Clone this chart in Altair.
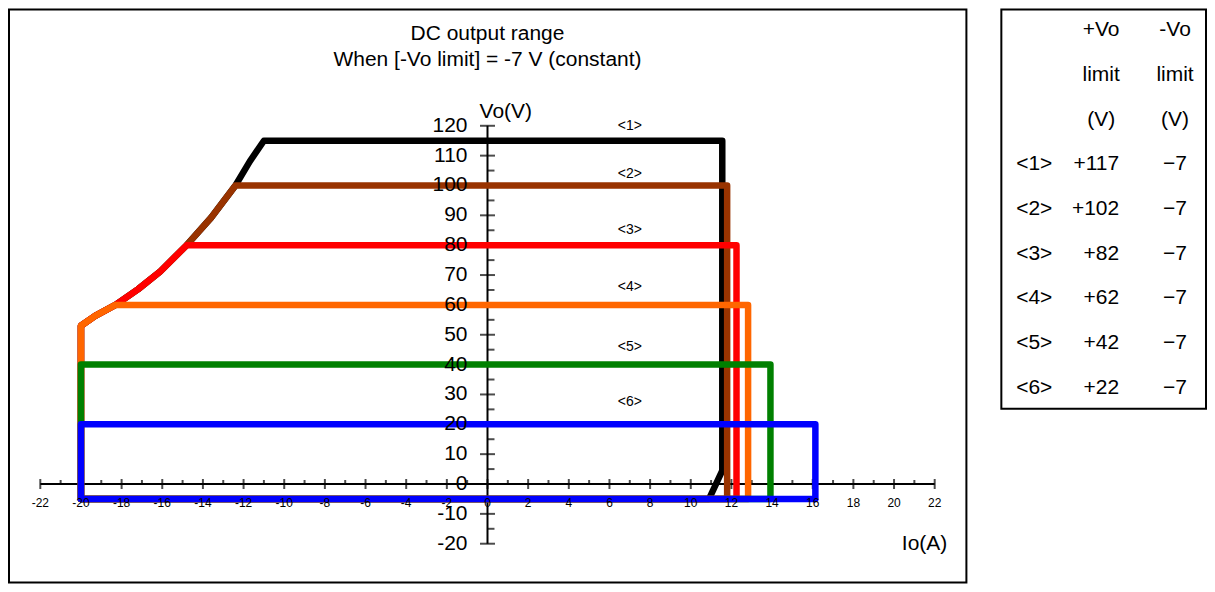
import altair as alt
import pandas as pd

# ---------------- data ----------------
series_names = ["<1>", "<2>", "<3>", "<4>", "<5>", "<6>"]
series_colors = ["#000000", "#993300", "#FF0000", "#FF6600", "#008000", "#0000FF"]

s1_x = [-20, -20, -19.3, -18.3, -17.2, -16.1, -14.8, -13.6, -12.4, -11.7, -11.0, 11.55, 11.55, 10.9, -20]
s1_y = [-5, 53, 56.3, 60, 65.2, 71.2, 80, 89.2, 100, 108, 115, 115, 4.5, -5, -5]
s2_x = [-20, -20, -19.3, -18.3, -17.2, -16.1, -14.8, -13.6, -12.4, 11.79, 11.79, -20]
s2_y = [-5, 53, 56.3, 60, 65.2, 71.2, 80, 89.2, 100, 100, -5, -5]
s3_x = [-20, -20, -19.3, -18.3, -17.2, -16.1, -14.8, 12.25, 12.25, -20]
s3_y = [-5, 53, 56.3, 60, 65.2, 71.2, 80, 80, -5, -5]
s4_x = [-20, -20, -19.3, -18.3, 12.82, 12.82, -20]
s4_y = [-5, 53, 56.3, 60, 60, -5, -5]
s5_x = [-20, -20, 13.92, 13.92, -20]
s5_y = [-5, 40, 40, -5, -5]
s6_x = [-20, -20, 16.13, 16.13, -20]
s6_y = [-5, 20, 20, -5, -5]
series_x = [s1_x, s2_x, s3_x, s4_x, s5_x, s6_x]
series_y = [s1_y, s2_y, s3_y, s4_y, s5_y, s6_y]

label_x = [7, 7, 7, 7, 7, 7]
label_y = [120, 104, 85, 66, 46, 27.5]

x_major = list(range(-22, 23, 2))
x_minor = list(range(-21, 22, 2))
y_major = list(range(-20, 121, 10))
y_minor = list(range(-15, 120, 10))

title_lines = ["DC output range", "When [-Vo limit] = -7 V (constant)"]
title_y = [150.7, 142.0]

y_title = "Vo(V)"
x_title = "Io(A)"

hdr_plus = ["+Vo", "limit", "(V)"]
hdr_minus = ["-Vo", "limit", "(V)"]
plus_limits = ["+117", "+102", "+82", "+62", "+42", "+22"]
minus_limits = ["\u22127", "\u22127", "\u22127", "\u22127", "\u22127", "\u22127"]

FONT = "Liberation Sans"

# ---------------- main plot ----------------
XS = alt.Scale(domain=[-23.54, 23.56], nice=False, zero=False)
YS = alt.Scale(domain=[-33.0, 158.96], nice=False, zero=False)


def X(f="x"):
    return alt.X(f"{f}:Q", scale=XS, axis=None)


def Y(f="y"):
    return alt.Y(f"{f}:Q", scale=YS, axis=None)


layers = []

# axes lines
xaxis_df = pd.DataFrame({"x": [x_major[0]], "x2": [x_major[-1]], "y": [0]})
yaxis_df = pd.DataFrame({"x": [0], "y": [y_major[0]], "y2": [y_major[-1]]})
layers.append(alt.Chart(xaxis_df).mark_rule(color="black", strokeWidth=2).encode(
    x=X(), x2="x2:Q", y=Y()))
layers.append(alt.Chart(yaxis_df).mark_rule(color="black", strokeWidth=2).encode(
    x=X(), y=Y(), y2="y2:Q"))

# ticks
xmaj_df = pd.DataFrame({"x": x_major, "y": 0})
xmin_df = pd.DataFrame({"x": x_minor, "y": 0})
ymaj_df = pd.DataFrame({"x": 0, "y": y_major})
ymin_df = pd.DataFrame({"x": 0, "y": y_minor})
layers.append(alt.Chart(xmaj_df).mark_tick(orient="vertical", size=10, thickness=2, color="black").encode(x=X(), y=Y()))
layers.append(alt.Chart(xmin_df).mark_tick(orient="vertical", size=4, thickness=2, yOffset=-2, color="black").encode(x=X(), y=Y()))
layers.append(alt.Chart(ymaj_df).mark_tick(orient="horizontal", size=15, thickness=2, color="black").encode(x=X(), y=Y()))
layers.append(alt.Chart(ymin_df).mark_tick(orient="horizontal", size=7, thickness=2, xOffset=3.5, color="black").encode(x=X(), y=Y()))

# series
for i in range(6):
    df = pd.DataFrame({"x": series_x[i], "y": series_y[i], "o": list(range(len(series_x[i])))})
    layers.append(
        alt.Chart(df).mark_line(color=series_colors[i], strokeWidth=6.5, strokeJoin="round", strokeCap="round").encode(
            x=X(), y=Y(), order="o:Q")
    )

# tick labels
xlab_df = pd.DataFrame({"x": x_major, "y": 0, "t": [str(v) for v in x_major]})
ylab_df = pd.DataFrame({"x": 0, "y": y_major, "t": [str(v) for v in y_major]})
layers.append(alt.Chart(xlab_df).mark_text(font=FONT, fontSize=12, dy=19, baseline="middle", color="black").encode(
    x=X(), y=Y(), text="t:N"))
layers.append(alt.Chart(ylab_df).mark_text(font=FONT, fontSize=21, dx=-20, align="right", baseline="middle", color="black").encode(
    x=X(), y=Y(), text="t:N"))

# series labels
sl_df = pd.DataFrame({"x": label_x, "y": label_y, "t": series_names})
layers.append(alt.Chart(sl_df).mark_text(font=FONT, fontSize=14, baseline="middle", color="black").encode(
    x=X(), y=Y(), text="t:N"))

# title
tt_df = pd.DataFrame({"x": 0, "y": title_y, "t": title_lines})
layers.append(alt.Chart(tt_df).mark_text(font=FONT, fontSize=21, baseline="middle", color="black").encode(
    x=X(), y=Y(), text="t:N"))

# axis titles
at_df = pd.DataFrame({"x": [0.9, 21.5], "y": [124.5, -20], "t": [y_title, x_title]})
layers.append(alt.Chart(at_df).mark_text(font=FONT, fontSize=21, baseline="middle", color="black").encode(
    x=X(), y=Y(), text="t:N"))

main = alt.layer(*layers).properties(width=959, height=574)

# ---------------- table ----------------
TXS = alt.Scale(domain=[0, 205], nice=False, zero=False)
TYS = alt.Scale(domain=[-0.469, 8.469], nice=False, zero=False, reverse=True)
COL_LABEL = 33
COL_PLUS_HDR = 100
COL_PLUS_RIGHT = 118
COL_MINUS = 174

hdr_df = pd.DataFrame({
    "c": [COL_PLUS_HDR] * 3 + [COL_MINUS] * 3,
    "r": [0, 1, 2, 0, 1, 2],
    "t": hdr_plus + hdr_minus,
})
lab_df = pd.DataFrame({"c": COL_LABEL, "r": list(range(3, 9)), "t": series_names})
plus_df = pd.DataFrame({"c": COL_PLUS_RIGHT, "r": list(range(3, 9)), "t": plus_limits})
minus_df = pd.DataFrame({"c": COL_MINUS, "r": list(range(3, 9)), "t": minus_limits})


def tenc(ch):
    return ch.encode(
        x=alt.X("c:Q", scale=TXS, axis=None),
        y=alt.Y("r:Q", scale=TYS, axis=None),
        text="t:N",
    )


table = alt.layer(
    tenc(alt.Chart(hdr_df).mark_text(font=FONT, fontSize=21, baseline="middle", color="black")),
    tenc(alt.Chart(lab_df).mark_text(font=FONT, fontSize=21, baseline="middle", color="black")),
    tenc(alt.Chart(plus_df).mark_text(font=FONT, fontSize=21, align="right", baseline="middle", color="black")),
    tenc(alt.Chart(minus_df).mark_text(font=FONT, fontSize=21, baseline="middle", color="black")),
).properties(width=205, height=400)

chart = alt.hconcat(main, table, spacing=33).properties(padding=0).configure_view(
    stroke="black", strokeWidth=2
)

chart.save("out.html", embed_options={"renderer": "svg", "actions": False})
